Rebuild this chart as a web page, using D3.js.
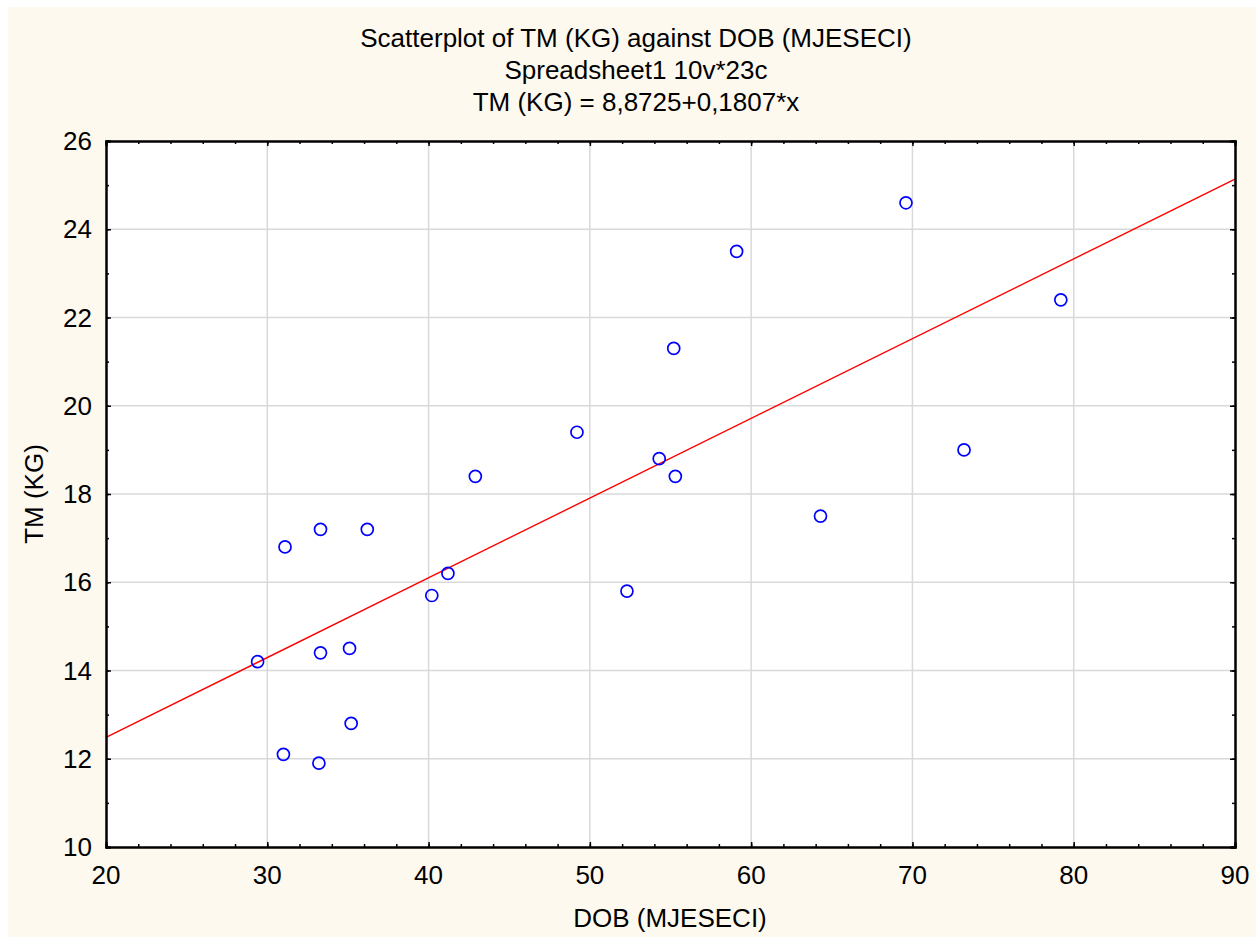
<!DOCTYPE html>
<html><head><meta charset="utf-8">
<script src="https://cdn.jsdelivr.net/npm/d3@7"></script>
<style>
html,body{margin:0;padding:0;background:#fff;}
svg{display:block;font-family:"Liberation Sans",Arial,sans-serif;}
</style></head>
<body>
<svg id="chart" width="1256" height="937"></svg>
<script>
const titleLines = ["Scatterplot of TM (KG) against DOB (MJESECI)", "Spreadsheet1 10v*23c", "TM (KG) = 8,8725+0,1807*x"];
const xLabel = "DOB (MJESECI)";
const yLabel = "TM (KG)";
const xTicks = [20,30,40,50,60,70,80,90];
const yTicks = [10,12,14,16,18,20,22,24,26];
const dob = [29.4,31.1,31.0,33.3,33.3,33.2,35.1,35.2,36.2,40.2,41.2,42.9,49.2,52.3,54.3,55.2,55.3,59.1,64.3,69.6,73.2,79.2];
const tm  = [14.2,16.8,12.1,17.2,14.4,11.9,14.5,12.8,17.2,15.7,16.2,18.4,19.4,15.8,18.8,21.3,18.4,23.5,17.5,24.6,19.0,22.4];
const intercept = 8.8725, slope = 0.1807;

const FS = 26;
const svg = d3.select("#chart");
svg.append("rect").attr("x",8).attr("y",7).attr("width",1248).attr("height",930).attr("fill","#fef9ef");

const L=106, R=1235, T=141, B=847;
const x = d3.scaleLinear().domain([20,90]).range([L,R]);
const y = d3.scaleLinear().domain([10,26]).range([B,T]);

svg.append("rect").attr("x",L).attr("y",T).attr("width",R-L).attr("height",B-T).attr("fill","#fff");

// grid
const g = svg.append("g");
g.selectAll(".gx").data(xTicks.slice(1,-1)).join("line")
 .attr("x1",d=>x(d)).attr("x2",d=>x(d)).attr("y1",T).attr("y2",B)
 .attr("stroke","#d9d9d9").attr("stroke-width",1.5);
g.selectAll(".gy").data(yTicks.slice(1,-1)).join("line")
 .attr("y1",d=>y(d)).attr("y2",d=>y(d)).attr("x1",L).attr("x2",R)
 .attr("stroke","#d9d9d9").attr("stroke-width",1.5);

// regression line
svg.append("line")
 .attr("x1",x(20)).attr("y1",y(intercept+slope*20))
 .attr("x2",x(90)).attr("y2",y(intercept+slope*90))
 .attr("stroke","#ff0000").attr("stroke-width",1.4);

// points
svg.append("g").selectAll("circle").data(dob.map((d,i)=>[d,tm[i]])).join("circle")
 .attr("cx",d=>x(d[0])).attr("cy",d=>y(d[1])).attr("r",6)
 .attr("fill","none").attr("stroke","#0000ff").attr("stroke-width",1.7);

// axes with inward ticks
const xMinor = d3.range(20,90.01,2);
const yMinor = d3.range(10,26.01,1);
const axB = d3.axisBottom(x).tickValues(xMinor).tickSize(-3).tickFormat("");
const axT = d3.axisTop(x).tickValues(xMinor).tickSize(-3).tickFormat("");
const axL = d3.axisLeft(y).tickValues(yMinor).tickSize(-3).tickFormat("");
const axR = d3.axisRight(y).tickValues(yMinor).tickSize(-3).tickFormat("");
const axBM = d3.axisBottom(x).tickValues(xTicks).tickSize(-5).tickFormat("");
const axTM = d3.axisTop(x).tickValues(xTicks).tickSize(-5).tickFormat("");
const axLM = d3.axisLeft(y).tickValues(yTicks).tickSize(-5).tickFormat("");
const axRM = d3.axisRight(y).tickValues(yTicks).tickSize(-5).tickFormat("");
[[axB,`translate(0,${B})`],[axT,`translate(0,${T})`],[axL,`translate(${L},0)`],[axR,`translate(${R},0)`],
 [axBM,`translate(0,${B})`],[axTM,`translate(0,${T})`],[axLM,`translate(${L},0)`],[axRM,`translate(${R},0)`]]
 .forEach(([a,t])=>{
   const gg = svg.append("g").attr("transform",t).call(a);
   gg.select(".domain").attr("stroke","#000").attr("stroke-width",2);
   gg.selectAll(".tick line").attr("stroke","#000").attr("stroke-width",1.5);
 });

// tick labels
svg.append("g").selectAll("text").data(xTicks).join("text")
 .attr("x",d=>x(d)).attr("y",884).attr("text-anchor","middle")
 .attr("font-size",FS).attr("fill","#000").text(d=>d);
svg.append("g").selectAll("text").data(yTicks).join("text")
 .attr("x",92).attr("y",d=>y(d)+9).attr("text-anchor","end")
 .attr("font-size",FS).attr("fill","#000").text(d=>d);

// titles
svg.append("g").selectAll("text").data(titleLines).join("text")
 .attr("x",636).attr("y",(d,i)=>47+i*32).attr("text-anchor","middle")
 .attr("font-size",FS).attr("fill","#000").text(d=>d);

svg.append("text").attr("x",670).attr("y",927).attr("text-anchor","middle")
 .attr("font-size",FS).attr("fill","#000").text(xLabel);
svg.append("text").attr("transform","translate(43,494) rotate(-90)").attr("text-anchor","middle")
 .attr("font-size",FS).attr("fill","#000").text(yLabel);
</script>
</body></html>
